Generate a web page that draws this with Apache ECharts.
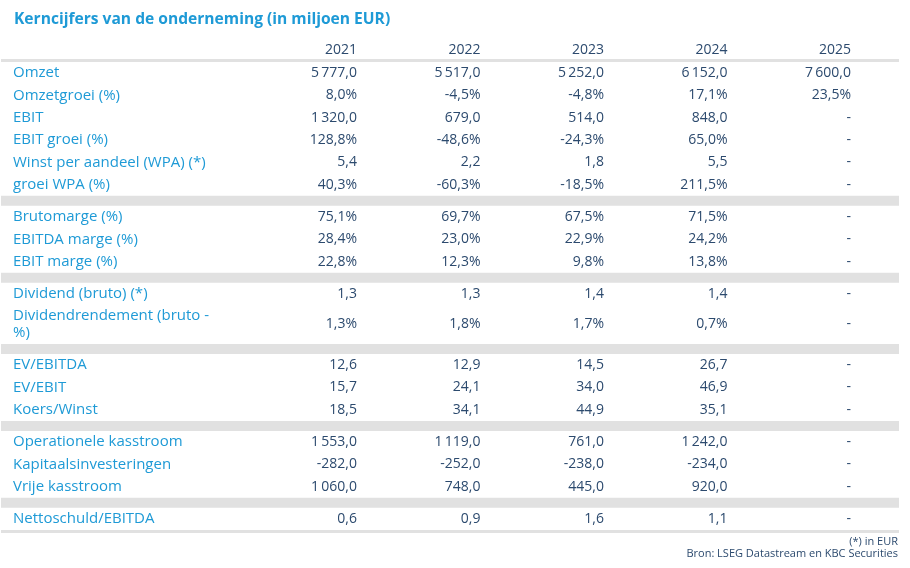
<!DOCTYPE html>
<html>
<head>
<meta charset="utf-8">
<script src="https://cdn.jsdelivr.net/npm/echarts@6/dist/echarts.min.js"></script>
<style>
  html, body { margin: 0; padding: 0; background: #fff; }
  #chart { width: 910px; height: 568px; }
</style>
</head>
<body>
<div id="chart"></div>
<script>
// kolommen
const years = ['2021', '2022', '2023', '2024', '2025'];

// rijen (per groep)
const rowLabels = [
  'Omzet', 'Omzetgroei (%)', 'EBIT', 'EBIT groei (%)', 'Winst per aandeel (WPA) (*)', 'groei WPA (%)',
  'Brutomarge (%)', 'EBITDA marge (%)', 'EBIT marge (%)',
  'Dividend (bruto) (*)', 'Dividendrendement (bruto -\n%)',
  'EV/EBITDA', 'EV/EBIT', 'Koers/Winst',
  'Operationele kasstroom', 'Kapitaalsinvesteringen', 'Vrije kasstroom',
  'Nettoschuld/EBITDA'
];
const groupSizes = [6, 3, 2, 3, 3, 1];
const pctRows = [false, true, false, true, false, true, true, true, true, false, true,
  false, false, false, false, false, false, false];

// waarden per jaar (null = '-')
const v2021 = [5777.0, 8.0, 1320.0, 128.8, 5.4, 40.3, 75.1, 28.4, 22.8, 1.3, 1.3, 12.6, 15.7, 18.5, 1553.0, -282.0, 1060.0, 0.6];
const v2022 = [5517.0, -4.5, 679.0, -48.6, 2.2, -60.3, 69.7, 23.0, 12.3, 1.3, 1.8, 12.9, 24.1, 34.1, 1119.0, -252.0, 748.0, 0.9];
const v2023 = [5252.0, -4.8, 514.0, -24.3, 1.8, -18.5, 67.5, 22.9, 9.8, 1.4, 1.7, 14.5, 34.0, 44.9, 761.0, -238.0, 445.0, 1.6];
const v2024 = [6152.0, 17.1, 848.0, 65.0, 5.5, 211.5, 71.5, 24.2, 13.8, 1.4, 0.7, 26.7, 46.9, 35.1, 1242.0, -234.0, 920.0, 1.1];
const v2025 = [7600.0, 23.5, null, null, null, null, null, null, null, null, null, null, null, null, null, null, null, null];
const columns = [v2021, v2022, v2023, v2024, v2025];

const FONT = 'Open Sans';
const BLUE = '#1e9ad6';
const NAVY = '#2c4a6e';
const GREY = '#e1e1e1';

// getal opmaak: 5 777,0 / -4,5%
const fmt = (v, pct) => {
  if (v === null || v === undefined) return '-';
  let s = Math.abs(v).toFixed(1).split('.');
  let intPart = s[0].replace(/\B(?=(\d{3})+(?!\d))/g, '\u2009');
  return (v < 0 ? '-' : '') + intPart + ',' + s[1] + (pct ? '%' : '');
};

// verticale opbouw van de tabel (px)
const RULE = 3, BAND = 10, ROW = 22.3, ROW2 = 39;
let y = RULE;
const rowY = [];
const bands = [[0, 0, RULE]];
let r = 0;
groupSizes.forEach((n, g) => {
  if (g > 0) { bands.push([0, y, y + BAND]); y += BAND; }
  for (let k = 0; k < n; k++) {
    let h = rowLabels[r].indexOf('\n') >= 0 ? ROW2 : ROW;
    rowY.push(y + h / 2);
    y += h;
    r++;
  }
});
bands.push([0, y, y + RULE]);
y += RULE;
const total = y;

const GRID_TOP = 59;

let valueData = [];
columns.forEach((col, c) => {
  col.forEach((v, i) => valueData.push([c, rowY[i], i]));
});
let labelData = rowY.map((yy, i) => [0, yy, i]);

let chart = echarts.init(document.getElementById('chart'), null, { renderer: 'canvas' });

let option = {
  animation: false,
  title: [
    {
      text: 'Kerncijfers van de onderneming (in miljoen EUR)',
      left: 9, top: 7,
      textStyle: { color: BLUE, fontFamily: FONT, fontWeight: 'bold', fontSize: 15.6 }
    },
    {
      text: '(*) in EUR',
      right: 7, top: 531,
      textStyle: { color: NAVY, fontFamily: FONT, fontWeight: 'normal', fontSize: 11 }
    },
    {
      text: 'Bron: LSEG Datastream en KBC Securities',
      right: 7, top: 543,
      textStyle: { color: NAVY, fontFamily: FONT, fontWeight: 'normal', fontSize: 11 }
    }
  ],
  grid: [
    { left: 1, right: 11, top: GRID_TOP, height: total },
    { left: 357, right: 59, top: GRID_TOP, height: total }
  ],
  xAxis: [
    { gridIndex: 0, type: 'value', min: 0, max: 1, show: false },
    {
      gridIndex: 1, type: 'category', data: years, boundaryGap: false, position: 'top',
      axisLine: { show: false }, axisTick: { show: false }, splitLine: { show: false },
      axisLabel: { align: 'right', margin: 2, color: NAVY, fontFamily: FONT, fontSize: 14, interval: 0 }
    }
  ],
  yAxis: [
    { gridIndex: 0, type: 'value', min: 0, max: total, inverse: true, show: false },
    { gridIndex: 1, type: 'value', min: 0, max: total, inverse: true, show: false }
  ],
  series: [
    {
      // grijze scheidingsbalken
      type: 'custom', xAxisIndex: 0, yAxisIndex: 0, silent: true,
      data: bands,
      renderItem: (params, api) => {
        let p0 = api.coord([0, api.value(1)]);
        let p1 = api.coord([1, api.value(2)]);
        return { type: 'rect', shape: { x: p0[0], y: p0[1], width: p1[0] - p0[0], height: p1[1] - p0[1] }, style: { fill: GREY } };
      }
    },
    {
      // rijlabels
      type: 'custom', xAxisIndex: 0, yAxisIndex: 0, silent: true,
      data: labelData,
      renderItem: (params, api) => {
        let p = api.coord([0, api.value(1)]);
        return {
          type: 'text',
          style: {
            x: p[0] + 12, y: p[1], text: rowLabels[api.value(2)],
            align: 'left', verticalAlign: 'middle', lineHeight: 16.6,
            fill: BLUE, fontFamily: FONT, fontSize: 15
          }
        };
      }
    },
    {
      // waarden
      type: 'custom', xAxisIndex: 1, yAxisIndex: 1, silent: true,
      data: valueData,
      renderItem: (params, api) => {
        let c = api.value(0), i = api.value(2);
        let p = api.coord([c, api.value(1)]);
        let txt = fmt(columns[c][i], pctRows[i]);
        return {
          type: 'text',
          style: {
            x: p[0], y: p[1], text: txt,
            align: 'right', verticalAlign: 'middle',
            fill: NAVY, fontFamily: FONT, fontSize: 14
          }
        };
      }
    }
  ]
};

if (option && typeof option === 'object') {
  chart.setOption(option);
}
</script>
</body>
</html>
